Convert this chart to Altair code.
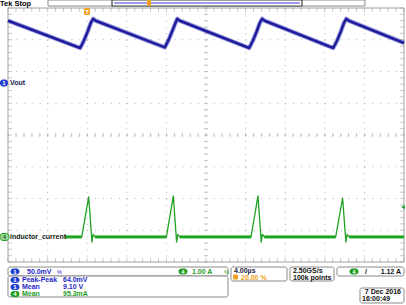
import altair as alt
import pandas as pd

# Channel 1 (Vout), time in microseconds, voltage in volts
vout_t = [-8.00, -0.71, -0.35, 0.05, 0.35, 0.60, 0.85,
          7.84, 8.20, 8.60, 8.90, 9.10, 9.35,
          16.36, 16.72, 17.12, 17.42, 17.67, 17.92,
          24.85, 25.22, 25.62, 25.92, 26.17, 26.42, 32.00]
vout_v = [9.118, 9.075, 9.086, 9.101, 9.114, 9.121, 9.118,
          9.076, 9.087, 9.102, 9.114, 9.121, 9.118,
          9.075, 9.086, 9.101, 9.114, 9.121, 9.118,
          9.075, 9.086, 9.101, 9.114, 9.121, 9.118, 9.083]

# Channel 4 (inductor current), time in microseconds, current in amperes
cur_t = [-8.00, -0.55, 0.15, 0.48, 0.60, 0.80,
         8.00, 8.70, 9.03, 9.15, 9.35,
         16.55, 17.25, 17.58, 17.70, 17.90,
         25.10, 25.80, 26.13, 26.25, 26.45, 32.00]
cur_a = [0.00, 0.00, 1.26, -0.16, 0.08, 0.00,
         0.00, 1.29, -0.16, 0.08, 0.00,
         0.00, 1.29, -0.16, 0.08, 0.00,
         0.00, 1.22, -0.16, 0.08, 0.00, 0.00]

# Vertical settings (volts/div, offset, marker position in divisions)
ch1_scale, ch1_offset, ch1_pos = 0.05, 9.02, 1.64
ch4_scale, ch4_offset, ch4_pos = 1.00, 0.00, -3.21
trig_marker_a = 0.94

# Graticule: 10 x 4 us, 8 divisions, trigger at 20 %
grid_t = [-8, -4, 0, 4, 8, 12, 16, 20, 24, 28, 32]
grid_div = [-4, -3, -2, -1, 0, 1, 2, 3, 4]
minor_t = [round(-8 + 0.8 * i, 2) for i in range(51)]
minor_div = [round(-4 + 0.2 * i, 2) for i in range(41)]

# Readouts
title_text = "Tek Stop"
ch1_name, ch4_name = "Vout", "inductor_current"
ch1_vdiv, ch4_adiv = "50.0mV", "1.00 A"
meas_src = ["1", "1", "4"]
meas_name = ["Peak-Peak", "Mean", "Mean"]
meas_val = ["64.0mV", "9.10 V", "95.3mA"]
timebase, trig_pos = "4.00\u00b5s", "20.00 %"
sample_rate, record_len = "2.50GS/s", "100k points"
trig_level = "1.12 A"
date_text, time_text = "7 Dec 2016", "16:00:49"

# ---------------- styling ----------------
BLUE = "#1f1f9e"
BLUE_HALO = "#5858c8"
GREEN = "#22a222"
GREEN_HALO = "#6acc6a"
GRID = "#b0b0b0"
ORANGE = "#f0a020"
FONT = "Liberation Sans"

xs = alt.Scale(domain=[-8, 32], range=[8, 404], nice=False, zero=False)
ys = alt.Scale(domain=[-4, 4], range=[262, 8], nice=False, zero=False)


def X(f):
    return alt.X(f, type="quantitative", scale=xs, axis=None)


def Y(f):
    return alt.Y(f, type="quantitative", scale=ys, axis=None)


one = pd.DataFrame({"k": [0]})


def txt(s, x, y, color="#101010", size=7, weight="bold", align="left"):
    return alt.Chart(one).mark_text(
        text=s, font=FONT, fontSize=size, fontWeight=weight, color=color,
        align=align, baseline="middle"
    ).encode(x=alt.value(x), y=alt.value(y))


def box(x, x2, y, y2, fill="white", stroke="#8a8a8a", r=2, sw=1):
    props = dict(cornerRadius=r, strokeWidth=sw)
    if fill is None:
        props["fillOpacity"] = 0
        props["fill"] = "white"
    else:
        props["fill"] = fill
    if stroke is not None:
        props["stroke"] = stroke
    return alt.Chart(one).mark_rect(**props).encode(
        x=alt.value(x), x2=alt.value(x2), y=alt.value(y), y2=alt.value(y2))


def badge(x, y, s, fill, tcol="white", stroke=None, w=9, h=6):
    return [box(x - w / 2, x + w / 2, y - h / 2, y + h / 2, fill=fill, stroke=stroke, r=3),
            txt(s, x, y + 0.3, color=tcol, size=6, align="center")]


# ---------------- dataframes ----------------
vout = pd.DataFrame({"t": vout_t, "v": vout_v})
vout["div"] = (vout["v"] - ch1_offset) / ch1_scale + ch1_pos
cur = pd.DataFrame({"t": cur_t, "a": cur_a})
cur["div"] = (cur["a"] - ch4_offset) / ch4_scale + ch4_pos
flat = pd.DataFrame({"t0": cur_t[:-1], "t1": cur_t[1:],
                     "a0": cur_a[:-1], "a1": cur_a[1:]})
flat = flat[(flat["a0"] == 0) & (flat["a1"] == 0)].copy()
flat["div"] = ch4_pos

layers = []

# graticule
layers.append(alt.Chart(pd.DataFrame({"t": grid_t[1:-1]})).mark_rule(
    color=GRID, strokeDash=[1, 5.35], strokeWidth=1).encode(
    x=X("t"), y=alt.value(8), y2=alt.value(262)))
layers.append(alt.Chart(pd.DataFrame({"d": grid_div[1:-1]})).mark_rule(
    color=GRID, strokeDash=[1, 6.92], strokeWidth=1).encode(
    y=Y("d"), x=alt.value(8), x2=alt.value(404)))
mt = pd.DataFrame({"t": minor_t})
md = pd.DataFrame({"d": minor_div})
for yy in (135, 10, 260):
    layers.append(alt.Chart(mt).mark_tick(orient="vertical", size=4, thickness=1, color=GRID)
                  .encode(x=X("t"), y=alt.value(yy)))
for xx in (206, 10, 402):
    layers.append(alt.Chart(md).mark_tick(orient="horizontal", size=4, thickness=1, color=GRID)
                  .encode(y=Y("d"), x=alt.value(xx)))
layers.append(box(8, 404, 8, 262, fill=None, stroke="#a0a0a0", r=0))

# channel 1 trace
layers.append(alt.Chart(vout).mark_line(color=BLUE_HALO, strokeWidth=4.5, opacity=0.55,
                                        strokeJoin="round").encode(x=X("t"), y=Y("div")))
layers.append(alt.Chart(vout).mark_line(color=BLUE, strokeWidth=2.6,
                                        strokeJoin="round").encode(x=X("t"), y=Y("div")))

# channel 4 trace
layers.append(alt.Chart(flat).mark_rule(color=GREEN_HALO, strokeWidth=4, opacity=0.7).encode(
    x=X("t0"), x2="t1:Q", y=Y("div")))
layers.append(alt.Chart(flat).mark_rule(color=GREEN, strokeWidth=2.3).encode(
    x=X("t0"), x2="t1:Q", y=Y("div")))
layers.append(alt.Chart(cur).mark_line(color=GREEN, strokeWidth=1.3,
                                       strokeJoin="round").encode(x=X("t"), y=Y("div")))

# channel markers and labels
y1 = 135 - ch1_pos * 31.75
y4 = 135 - ch4_pos * 31.75
layers += badge(4, y1, "1", "#2040d0", w=8, h=7)
layers.append(txt(ch1_name, 10, y1, color="#1a1a50", size=7))
layers.append(box(9, 65, y4 - 4, y4 + 4, fill="white", stroke=None, r=0))
layers += badge(4.5, y4, "4", "#9ad89a", tcol="#106010", stroke="#1f9c1f", w=9, h=7)
layers.append(txt(ch4_name, 10, y4, color="#102010", size=7))

# trigger level marker (right edge)
layers.append(alt.Chart(pd.DataFrame({"a": [trig_marker_a]})).transform_calculate(
    div=f"(datum.a - {ch4_offset}) / {ch4_scale} + {ch4_pos}").mark_point(
    shape="triangle-left", filled=True, color=GREEN, size=18, opacity=1).encode(
    y=Y("div"), x=alt.value(403)))

# trigger position marker
layers.append(box(84, 90, 8, 15, fill=ORANGE, stroke=None, r=1.5))
layers.append(txt("T", 87, 11.5, color="white", size=6, align="center"))

# top record view bar
layers.append(txt(title_text, 0, 3.5, color="#000000", size=7.5))
layers.append(box(48, 365, 0, 6, fill="white", stroke="#8a8a8a", r=0))
layers.append(box(112, 302, 0, 6, fill="white", stroke="#404040", r=0, sw=1.2))
layers.append(alt.Chart(one).mark_rule(color="#7c7ce8", strokeWidth=1.5).encode(
    x=alt.value(114), x2=alt.value(300), y=alt.value(3)))
layers.append(box(147, 151, 0, 6, fill=ORANGE, stroke=None, r=1))

# status area: channel scales
layers.append(box(8, 228, 267, 276))
layers += badge(15, 271.5, "1", "#2040d0")
layers.append(txt(ch1_vdiv, 27, 271.5, color="#2828c8", size=7))
layers.append(txt("%", 57, 271.5, color="#2828c8", size=5.5, weight="normal"))
layers += badge(183, 271.5, "4", "#1f9c1f")
layers.append(txt(ch4_adiv, 192, 271.5, color="#1f9c1f", size=7))
layers.append(txt("%", 224, 271.5, color="#1f9c1f", size=5.5, weight="normal"))

# measurements
layers.append(box(8, 228, 276, 297))
row_y = [280, 287, 294]
for src, name, val, yy in zip(meas_src, meas_name, meas_val, row_y):
    col = "#2828c8" if src == "1" else "#1f9c1f"
    fill = "#2040d0" if src == "1" else "#1f9c1f"
    layers += badge(15, yy, src, fill)
    layers.append(txt(name, 22, yy, color=col, size=7))
    layers.append(txt(val, 63, yy, color=col, size=7))

# timebase
layers.append(box(231, 287, 267, 281))
layers.append(txt(timebase, 234, 270.5, color="#1a1a40", size=7))
layers.append(box(233, 238, 274.5, 279.5, fill=ORANGE, stroke=None, r=1))
layers.append(txt(trig_pos, 241, 277.5, color=ORANGE, size=7))

# acquisition
layers.append(box(290, 334, 267, 281))
layers.append(txt(sample_rate, 293, 270.5, color="#101010", size=7))
layers.append(txt(record_len, 293, 277.5, color="#101010", size=7))

# trigger
layers.append(box(337, 404, 267, 276))
layers += badge(354, 271.5, "4", "#1f9c1f")
layers.append(txt("/", 365, 271.5, color="#101010", size=7))
layers.append(txt(trig_level, 401, 271.5, color="#101010", size=7, align="right"))

# date / time
layers.append(box(360, 404, 288, 303))
layers.append(txt(date_text, 401, 292, color="#101010", size=7, align="right"))
layers.append(txt(time_text, 362, 299, color="#101010", size=7))

chart = alt.layer(*layers).properties(
    width=406, height=305, padding=0,
    autosize=alt.AutoSizeParams(type="none"),
    background="white",
).configure_view(stroke=None)

chart.save("out.html", embed_options={"renderer": "svg", "actions": False})
